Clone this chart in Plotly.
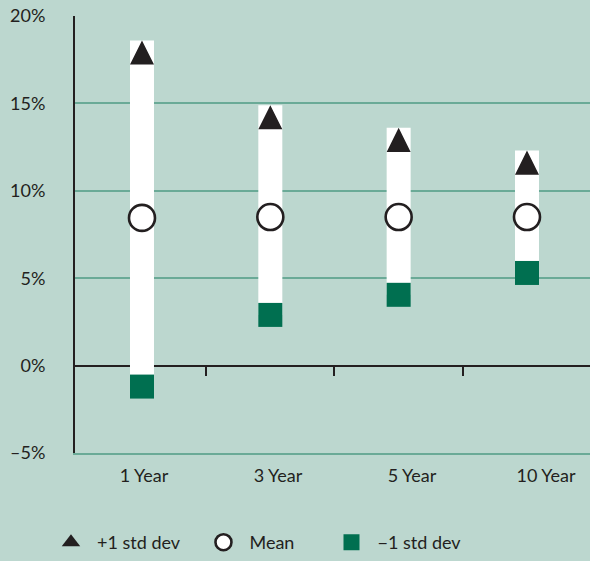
import plotly.graph_objects as go

categories = ["1 Year", "3 Year", "5 Year", "10 Year"]
plus_sd = [18.6, 14.9, 13.6, 12.3]
mean = [8.45, 8.5, 8.5, 8.5]
minus_sd = [-1.2, 2.9, 4.05, 5.3]
y_tickvals = [-5, 0, 5, 10, 15, 20]
y_ticktext = ["\u20135%", "0%", "5%", "10%", "15%", "20%"]

BG = "#bcd7cf"
GRID = "#6aaa97"
DARK = "#231f20"
GREEN = "#006f50"
FONT = "Lato"

BAR_W = 0.187      # bar width in category units
TRI_H = 1.38       # triangle height in y units

x_pos = list(range(len(categories)))

# triangle polygons built from the data (apex at +1 std dev value)
tri_x, tri_y = [], []
for xi, top in zip(x_pos, plus_sd):
    tri_x += [xi - BAR_W / 2, xi + BAR_W / 2, xi, xi - BAR_W / 2, None]
    tri_y += [top - TRI_H, top - TRI_H, top, top - TRI_H, None]

fig = go.Figure()
fig.add_trace(go.Bar(
    x=x_pos, y=[p - m for p, m in zip(plus_sd, minus_sd)], base=minus_sd,
    width=BAR_W, marker=dict(color="white", line=dict(width=0)),
    showlegend=False, hoverinfo="skip"))
fig.add_trace(go.Scatter(
    x=tri_x, y=tri_y, mode="lines", fill="toself", fillcolor=DARK,
    line=dict(width=0, color=DARK), showlegend=False, hoverinfo="skip"))
# legend entries
fig.add_trace(go.Scatter(
    x=[None], y=[None], mode="markers", name="+1 std dev", legend="legend",
    marker=dict(symbol="triangle-up", size=24, color=DARK, line=dict(width=0))))
fig.add_trace(go.Scatter(
    x=x_pos, y=mean, mode="markers", name="Mean", legend="legend2",
    marker=dict(symbol="circle", size=26, color="white", line=dict(width=2.6, color=DARK))))
fig.add_trace(go.Scatter(
    x=x_pos, y=minus_sd, mode="markers", name="\u22121 std dev", legend="legend3",
    marker=dict(symbol="square", size=24, color=GREEN, line=dict(width=0))))

# helper traces so the overlay axes get drawn
for xa, ya in (("x2", "y"), ("x3", "y"), ("x", "y2"), ("x", "y3")):
    fig.add_trace(go.Scatter(x=[None], y=[None], xaxis=xa, yaxis=ya,
                             showlegend=False, hoverinfo="skip"))

legend_style = dict(orientation="h", xanchor="left", y=-0.206, yanchor="middle",
                    font=dict(size=18, color=DARK), bgcolor="rgba(0,0,0,0)",
                    itemwidth=42)

fig.update_layout(
    width=590, height=561,
    margin=dict(l=75, r=0, t=16, b=108),
    paper_bgcolor=BG, plot_bgcolor=BG,
    font=dict(family=FONT, size=18, color=DARK),
    xaxis=dict(type="linear", range=[-0.522, 3.491], showticklabels=False,
               showgrid=False, zeroline=False, showline=True, linecolor=GRID,
               linewidth=2, ticks=""),
    xaxis2=dict(overlaying="x", anchor="free", position=0.2, type="linear",
                range=[-0.522, 3.491], tickvals=[0.5, 1.5, 2.5], ticks="outside",
                ticklen=9, tickwidth=2, tickcolor=DARK, showticklabels=False,
                showgrid=False, zeroline=False, showline=False),
    xaxis3=dict(overlaying="x", anchor="y", side="bottom", type="linear",
                range=[-0.515, 3.328], tickvals=x_pos, ticktext=categories,
                showgrid=False, zeroline=False, showline=False, ticks="",
                ticklabelstandoff=10, tickfont=dict(size=18, color=DARK)),
    yaxis=dict(range=[-5, 20], tickvals=y_tickvals, ticktext=y_ticktext,
               showgrid=False, zeroline=True, zerolinecolor=DARK, zerolinewidth=2,
               showline=True, linecolor=DARK, linewidth=2, ticks="",
               ticklabelstandoff=24, tickfont=dict(size=18, color=DARK)),
    yaxis2=dict(overlaying="y", range=[-5, 20], tickvals=[-5, 5, 10, 15],
                showgrid=True, gridcolor=GRID, gridwidth=2, showticklabels=False,
                zeroline=False, showline=False, ticks=""),
    yaxis3=dict(overlaying="y", range=[-5, 20], tickvals=[20], ticks="inside",
                ticklen=8, tickwidth=2, tickcolor=DARK, showticklabels=False,
                showgrid=False, zeroline=False, showline=False),
    legend=dict(x=-0.0583, **legend_style),
    legend2=dict(x=0.2378, **legend_style),
    legend3=dict(x=0.4864, **legend_style),
)

fig.write_html("out.html", config={"displayModeBar": False},
               post_script="document.body.style.margin='0';document.body.style.overflow='hidden';")
